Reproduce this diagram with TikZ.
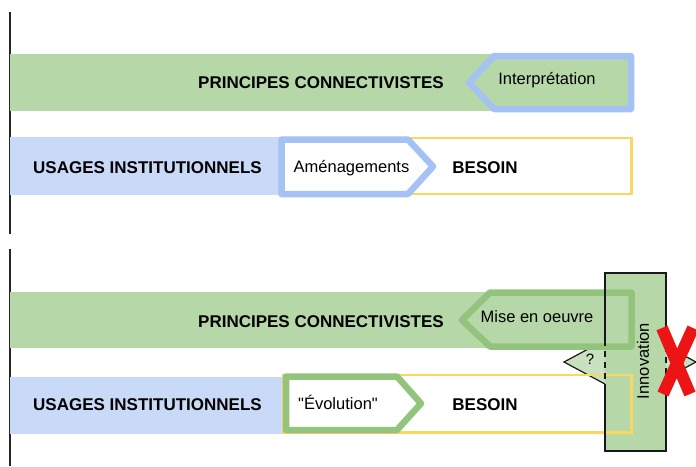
\documentclass[tikz,border=0pt]{standalone}
\usepackage{fontspec}
\setmainfont{Liberation Sans}
\newfontfamily\plainquote{Liberation Sans}[Ligatures=ResetAll]
\definecolor{gbar}{RGB}{182,215,168}
\definecolor{bbar}{RGB}{201,218,248}
\definecolor{bline}{RGB}{164,194,244}
\definecolor{gline}{RGB}{147,196,125}
\definecolor{yline}{RGB}{250,215,95}
\definecolor{xred}{RGB}{236,20,20}
\begin{document}
\begin{tikzpicture}[x=1pt,y=-1pt,
  lbl/.style={font=\fontsize{17}{20}\selectfont\bfseries, anchor=base, inner sep=0pt},
  txt/.style={font=\fontsize{16.5}{20}\selectfont, anchor=base, inner sep=0pt},
  axisline/.style={draw=black!85, line width=1.8pt},
  boutline/.style={draw=bline, line width=6.5pt, line join=round},
  goutline/.style={draw=gline, line width=6.5pt, line join=round},
  yrect/.style={draw=yline, line width=2.4pt},
  innoedge/.style={draw=black!90, line width=1.4pt},
  redx/.style={draw=xred, line width=12pt}]
\useasboundingbox (0,0) rectangle (696,466);
\fill[white] (0,0) rectangle (696,466);

% ---------- left axes ----------
\coordinate (a1) at (10,12);  \coordinate (a2) at (10,234);
\coordinate (a3) at (10,249); \coordinate (a4) at (10,466);
\draw[axisline] (a1) -- (a2);
\draw[axisline] (a3) -- (a4);

% ---------- top section ----------
\fill[gbar] (10,54) rectangle (633,111);
\draw[boutline, fill=gbar] (631,56) -- (494,56) -- (469,82.5) -- (494,109) -- (631,109) -- cycle;
\fill[bbar] (10,137) rectangle (282,195);
\draw[yrect] (408,138) rectangle (631.5,194);
\draw[boutline, fill=white] (281.5,139.5) -- (408,139.5) -- (433,166.5) -- (408,194) -- (281.5,194) -- cycle;

\node[lbl] (pc1) at (321,88) {PRINCIPES CONNECTIVISTES};
\node[txt] (interp) at (547,84) {Interprétation};
\node[lbl] (ui1) at (147.5,173) {USAGES INSTITUTIONNELS};
\node[txt] (amen) at (351.5,172) {Aménagements};
\node[lbl] (bes1) at (485,173) {BESOIN};

% ---------- bottom section ----------
% decision diamond (mostly hidden)
\draw[black!90, line width=1.2pt, fill=gbar!75] (564,362) -- (630,326.5) -- (696,362) -- (630,397.5) -- cycle;
\fill[gbar] (10,292) rectangle (633,348);
% innovation box fill
\fill[gbar] (605,273) rectangle (666,451);
\draw[goutline, fill=gbar] (631.5,292.5) -- (490,292.5) -- (462,320) -- (490,346.5) -- (631.5,346.5) -- cycle;
\fill[bbar] (10,377) rectangle (284,434);
\draw[yrect] (283,375) rectangle (631.5,432.5);
\draw[goutline, fill=white] (286,376.5) -- (397,376.5) -- (421,403.5) -- (397,430) -- (286,430) -- cycle;

% innovation box border
\draw[innoedge] (605,340) -- (605,273) -- (666,273) -- (666,346);
\draw[innoedge] (666,378) -- (666,451) -- (605,451) -- (605,384);
\draw[innoedge, dash pattern=on 6pt off 5pt] (605,340) -- (605,384);
\draw[innoedge, dash pattern=on 6pt off 5pt] (666,346) -- (666,378);

\node[lbl] (pc2) at (321,327) {PRINCIPES CONNECTIVISTES};
\node[txt] (mise) at (537,322) {Mise en oeuvre};
\node[lbl] (ui2) at (147.5,410) {USAGES INSTITUTIONNELS};
\node[txt, font=\fontsize{16.5}{20}\selectfont\plainquote] (evol) at (338,409) {"Évolution"};
\node[lbl] (bes2) at (485,410) {BESOIN};
\node[txt, anchor=center, rotate=90] (inno) at (643,361) {Innovation};
\node[font=\fontsize{15}{17}\selectfont, inner sep=0pt] (q) at (590,359) {?};

% red cross
\draw[redx] (662,328) -- (690,394);
\draw[redx] (693,328) -- (663,394);
\end{tikzpicture}
\end{document}
